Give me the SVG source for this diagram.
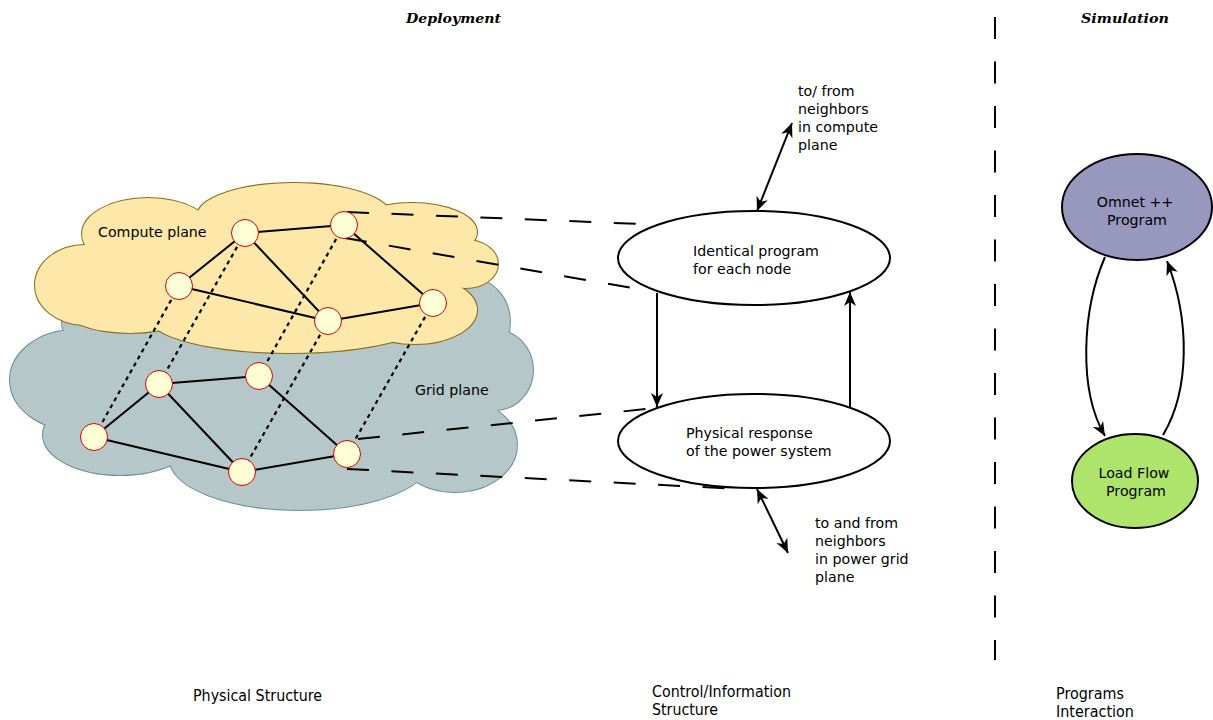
<svg xmlns="http://www.w3.org/2000/svg" width="1213" height="720" viewBox="0 0 1213 720">
<defs>
<marker id="ah" viewBox="-15 -7 16 14" refX="0" refY="0" markerWidth="16" markerHeight="14" markerUnits="userSpaceOnUse" orient="auto-start-reverse">
<path d="M0,0 L-14,-6 L-10,0 L-14,6 Z" fill="#000"/>
</marker>
<style>
.t{font-family:"DejaVu Sans","Liberation Sans",sans-serif;font-size:14.2px;fill:#000}
.tc{font-family:"DejaVu Sans Condensed","DejaVu Sans","Liberation Sans",sans-serif;font-stretch:condensed;font-size:15px;fill:#000}
.h{font-family:"DejaVu Serif","Liberation Serif",serif;font-weight:bold;font-style:italic;font-size:13.5px;fill:#000}
.edge{stroke:#000;stroke-width:2;fill:none}
.dot{stroke:#000;stroke-width:2.2;stroke-dasharray:4,4;fill:none}
.dash{stroke:#000;stroke-width:2;stroke-dasharray:22,22.5;fill:none}
.node{fill:#ffffd5;stroke:#d40000;stroke-width:1}
.arr{stroke:#000;stroke-width:2;fill:none}
.ell{stroke:#000;stroke-width:2}
</style>
</defs>
<rect width="1213" height="720" fill="#fff"/>

<g id="titles">
<text class="h" x="406" y="23" textLength="95" lengthAdjust="spacingAndGlyphs">Deployment</text>
<text class="h" x="1081" y="23" textLength="88" lengthAdjust="spacingAndGlyphs">Simulation</text>
</g>

<g id="grid-plane">
<g fill="none" stroke="#6f9293" stroke-width="2">
<ellipse cx="75" cy="380" rx="65" ry="50"/>
<ellipse cx="120" cy="322" rx="58" ry="35"/>
<ellipse cx="120" cy="435" rx="77" ry="40"/>
<ellipse cx="300" cy="460" rx="130" ry="50"/>
<ellipse cx="455" cy="445" rx="62" ry="47"/>
<ellipse cx="495" cy="370" rx="38" ry="40"/>
<ellipse cx="470" cy="322" rx="40" ry="44"/>
</g>
<g fill="#b5c7c8">
<ellipse cx="75" cy="380" rx="65" ry="50"/>
<ellipse cx="120" cy="322" rx="58" ry="35"/>
<ellipse cx="120" cy="435" rx="77" ry="40"/>
<ellipse cx="300" cy="460" rx="130" ry="50"/>
<ellipse cx="455" cy="445" rx="62" ry="47"/>
<ellipse cx="495" cy="370" rx="38" ry="40"/>
<ellipse cx="470" cy="322" rx="40" ry="44"/>
<ellipse cx="290" cy="390" rx="215" ry="80"/>
</g>
<text class="t" x="415" y="395">Grid plane</text>
</g>

<g id="compute-plane">
<g fill="none" stroke="#8a6d1f" stroke-width="2">
<ellipse cx="85" cy="285" rx="50" ry="40"/>
<ellipse cx="148" cy="234" rx="66" ry="36"/>
<ellipse cx="294" cy="216" rx="97" ry="33"/>
<ellipse cx="412" cy="232" rx="65" ry="29"/>
<ellipse cx="466" cy="264" rx="32" ry="24"/>
<ellipse cx="415" cy="310" rx="62" ry="34"/>
<ellipse cx="290" cy="318" rx="140" ry="35"/>
<ellipse cx="130" cy="305" rx="70" ry="28"/>
</g>
<g fill="#fde8aa">
<ellipse cx="85" cy="285" rx="50" ry="40"/>
<ellipse cx="148" cy="234" rx="66" ry="36"/>
<ellipse cx="294" cy="216" rx="97" ry="33"/>
<ellipse cx="412" cy="232" rx="65" ry="29"/>
<ellipse cx="466" cy="264" rx="32" ry="24"/>
<ellipse cx="415" cy="310" rx="62" ry="34"/>
<ellipse cx="290" cy="318" rx="140" ry="35"/>
<ellipse cx="130" cy="305" rx="70" ry="28"/>
<ellipse cx="270" cy="268" rx="190" ry="48"/>
</g>
<text class="t" x="98" y="237">Compute plane</text>
</g>

<g id="identical-program">
<ellipse class="ell" cx="754" cy="258" rx="136" ry="47" fill="#fff"/>
<text class="t" x="693" y="256">Identical program</text>
<text class="t" x="693" y="274">for each node</text>
</g>
<g id="physical-response">
<ellipse class="ell" cx="754" cy="441" rx="136" ry="47" fill="#fff"/>
<text class="t" x="686" y="438">Physical response</text>
<text class="t" x="686" y="456">of the power system</text>
</g>
<g id="omnet">
<ellipse class="ell" cx="1137" cy="207" rx="75" ry="53" fill="#9898bf"/>
<text class="t" x="1135" y="207" text-anchor="middle">Omnet ++</text>
<text class="t" x="1137" y="225" text-anchor="middle">Program</text>
</g>
<g id="loadflow">
<ellipse class="ell" cx="1135" cy="481" rx="63" ry="47" fill="#afe46c"/>
<text class="t" x="1134" y="478" text-anchor="middle">Load Flow</text>
<text class="t" x="1136" y="496" text-anchor="middle">Program</text>
</g>

<g id="connectors">
<g id="vertical-links">
<line class="dot" x1="179" y1="286" x2="94" y2="437"/>
<line class="dot" x1="245" y1="233" x2="159" y2="384"/>
<line class="dot" x1="344" y1="225" x2="259" y2="376"/>
<line class="dot" x1="328" y1="321" x2="242" y2="472"/>
<line class="dot" x1="433" y1="303" x2="347" y2="454"/>
</g>
<g id="compute-links">
<line class="edge" x1="245" y1="233" x2="344" y2="225"/>
<line class="edge" x1="245" y1="233" x2="179" y2="286"/>
<line class="edge" x1="245" y1="233" x2="328" y2="321"/>
<line class="edge" x1="179" y1="286" x2="328" y2="321"/>
<line class="edge" x1="328" y1="321" x2="433" y2="303"/>
<line class="edge" x1="344" y1="225" x2="433" y2="303"/>
</g>
<g id="grid-links">
<line class="edge" x1="159" y1="384" x2="259" y2="376"/>
<line class="edge" x1="159" y1="384" x2="94" y2="437"/>
<line class="edge" x1="159" y1="384" x2="242" y2="472"/>
<line class="edge" x1="94" y1="437" x2="242" y2="472"/>
<line class="edge" x1="242" y1="472" x2="347" y2="454"/>
<line class="edge" x1="259" y1="376" x2="347" y2="454"/>
</g>
<g id="mapping-links">
<line class="dash" x1="347" y1="212" x2="640" y2="224"/>
<line class="dash" x1="345" y1="238" x2="632" y2="288"/>
<line class="dash" x1="358" y1="439" x2="656" y2="408"/>
<line class="dash" x1="347" y1="469" x2="740" y2="489"/>
</g>
<line class="dash" x1="995" y1="17" x2="995" y2="660"/>
<line class="arr" x1="657" y1="293" x2="657" y2="407" marker-end="url(#ah)"/>
<line class="arr" x1="850" y1="407" x2="850" y2="292" marker-end="url(#ah)"/>
<line class="arr" x1="757" y1="211" x2="792" y2="123" marker-start="url(#ah)" marker-end="url(#ah)"/>
<line class="arr" x1="757" y1="489" x2="788" y2="553" marker-start="url(#ah)" marker-end="url(#ah)"/>
<path class="arr" d="M1105,257 C1082,310 1078,390 1105,436" marker-end="url(#ah)"/>
<path class="arr" d="M1163,435 C1190,390 1190,320 1167,261" marker-end="url(#ah)"/>
</g>

<g id="nodes">
<circle class="node" cx="245" cy="233" r="13.5"/>
<circle class="node" cx="344" cy="225" r="13.5"/>
<circle class="node" cx="179" cy="286" r="13.5"/>
<circle class="node" cx="328" cy="321" r="13.5"/>
<circle class="node" cx="433" cy="303" r="13.5"/>
<circle class="node" cx="159" cy="384" r="13.5"/>
<circle class="node" cx="259" cy="376" r="13.5"/>
<circle class="node" cx="94" cy="437" r="13.5"/>
<circle class="node" cx="242" cy="472" r="13.5"/>
<circle class="node" cx="347" cy="454" r="13.5"/>
</g>

<g id="compute-neighbors-label">
<text class="t" x="798" y="96">to/ from</text>
<text class="t" x="798" y="114">neighbors</text>
<text class="t" x="798" y="132">in compute</text>
<text class="t" x="798" y="150">plane</text>
</g>
<g id="grid-neighbors-label">
<text class="t" x="815" y="528">to and from</text>
<text class="t" x="815" y="546">neighbors</text>
<text class="t" x="815" y="564">in power grid</text>
<text class="t" x="815" y="582">plane</text>
</g>
<g id="footer">
<text class="tc" x="193" y="701" textLength="129" lengthAdjust="spacingAndGlyphs">Physical Structure</text>
<text class="tc" x="652" y="697" textLength="139" lengthAdjust="spacingAndGlyphs">Control/Information</text>
<text class="tc" x="652" y="715" textLength="66" lengthAdjust="spacingAndGlyphs">Structure</text>
<text class="tc" x="1056" y="699" textLength="68" lengthAdjust="spacingAndGlyphs">Programs</text>
<text class="tc" x="1056" y="717" textLength="78" lengthAdjust="spacingAndGlyphs">Interaction</text>
</g>
</svg>
